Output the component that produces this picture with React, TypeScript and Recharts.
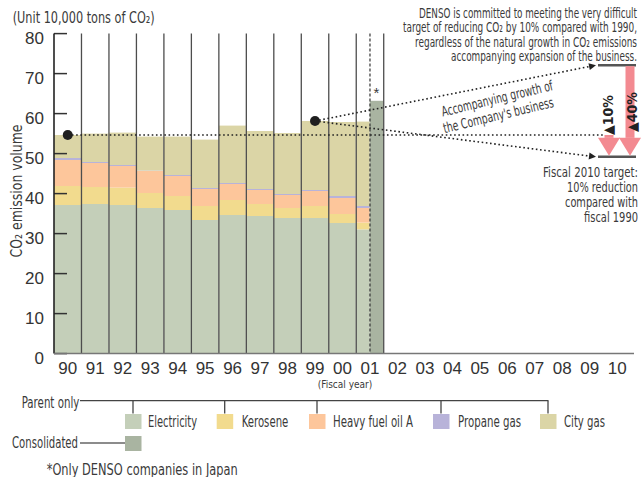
import React from "react";
import { BarChart, Bar, XAxis, YAxis, ReferenceDot } from "recharts";

const years = ["90", "91", "92", "93", "94", "95", "96", "97", "98", "99", "00", "01", "02", "03", "04", "05", "06", "07", "08", "09", "10"];
const electricity = [37.15, 37.4, 37.15, 36.4, 35.9, 33.4, 34.65, 34.4, 33.9, 33.9, 32.65, 31.05];
const kerosene = [4.75, 4.25, 4.35, 3.75, 3.5, 3.5, 3.75, 3.0, 2.5, 3.0, 2.25, 1.7];
const heavyFuelOilA = [6.5, 6.0, 5.4, 5.5, 5.0, 4.25, 4.0, 3.5, 3.25, 3.75, 4.0, 3.65];
const propaneGas = [0.5, 0.25, 0.25, 0.1, 0.25, 0.25, 0.25, 0.25, 0.25, 0.25, 0.5, 0.5];
const cityGas = [5.75, 7.1, 8.1, 8.5, 9.6, 12.1, 14.35, 14.5, 15.25, 17.25, 18.5, 21.1];
const consolidated = [null, null, null, null, null, null, null, null, null, null, null, 63.2];
const yTicks = [0, 10, 20, 30, 40, 50, 60, 70, 80];
const naturalGrowth = 72.1;

const series = [
  { key: "electricity", name: "Electricity", color: "#c4cfb9", values: electricity },
  { key: "kerosene", name: "Kerosene", color: "#f2db8e", values: kerosene },
  { key: "heavy", name: "Heavy fuel oil A", color: "#fdc69b", values: heavyFuelOilA },
  { key: "propane", name: "Propane gas", color: "#b8b3d9", values: propaneGas },
  { key: "city", name: "City gas", color: "#dbd5a6", values: cityGas },
];
const consColor = "#a9b4a1";

const data = years.map((year, i) => {
  const row: any = { year, consolidated: consolidated[i] ?? null };
  series.forEach((s) => (row[s.key] = s.values[i] ?? null));
  return row;
});
const totals = years.map((_, i) => series.reduce((a, s) => a + (s.values[i] ?? 0), 0));
const target = totals[0] * 0.9;

const W = 642;
const H = 477;
const LEFT = 54;
const RIGHT = 631;
const TOP = 33.6;
const BOTTOM = 353.6;
const BAND = (RIGHT - LEFT) / years.length;
const yPx = (v: number) => BOTTOM - ((BOTTOM - TOP) * v) / 80;
const xMid = (i: number) => LEFT + (i + 0.5) * BAND;

const NARROW = "'DejaVu Sans Condensed', 'Liberation Sans Narrow', 'Roboto Condensed', sans-serif";
const DIGITS = "'Liberation Sans', Arial, sans-serif";
const INK = "#3a3a3a";

const ParentShape = (p: any) => {
  if (!p.height || p.height <= 0) return null;
  const half = p.payload && p.payload.consolidated != null;
  return <rect x={p.x} y={p.y} width={half ? p.width / 2 : p.width} height={p.height} fill={p.fill} />;
};

const ConsShape = (p: any) => {
  if (!p.height || p.height <= 0) return null;
  return <rect x={p.x + p.width / 2} y={p.y} width={p.width / 2} height={p.height} fill={p.fill} />;
};

const StarLabel = (p: any) => {
  if (p.value == null) return null;
  return (
    <text x={p.x + p.width * 0.75} y={p.y - 3} textAnchor="middle" fontSize={15} fill={INK} fontFamily={DIGITS}>
      *
    </text>
  );
};

const XTick = (p: any) => (
  <text x={p.x} y={374} textAnchor="middle" fontSize={17} fill="#333" fontFamily={DIGITS}>
    {p.payload.value}
  </text>
);

// labels sit a little below their tick marks, as in the source
const YTick = (p: any) => (
  <g>
    <line x1={LEFT} x2={LEFT + 13} y1={p.y} y2={p.y} stroke="#333" strokeWidth={1.5} />
    <text x={44} y={p.y + 10.5} textAnchor="end" fontSize={17} fill="#333" fontFamily={DIGITS}>
      {p.payload.value}
    </text>
  </g>
);

const arrowHead = (x1: number, y1: number, x2: number, y2: number, len = 7, half = 3.5) => {
  const a = Math.atan2(y2 - y1, x2 - x1);
  const bx = x2 - len * Math.cos(a);
  const by = y2 - len * Math.sin(a);
  const px = -Math.sin(a) * half;
  const py = Math.cos(a) * half;
  return `${x2},${y2} ${bx + px},${by + py} ${bx - px},${by - py}`;
};

// right-aligned narrow text squeezed to the reference width
const RText = ({ x, y, w, children }: any) => (
  <text x={x} y={y} textAnchor="end" textLength={w} lengthAdjust="spacingAndGlyphs">
    {children}
  </text>
);

function Overlay() {
  const y90 = yPx(totals[0]);
  const y99 = yPx(totals[9]);
  const yN = yPx(naturalGrowth);
  const yT = yPx(target);
  const x99 = xMid(9);
  const tipX = 596;
  const head = 19;
  const legendX = [125, 216.7, 309, 433, 540];
  const legendText = [
    [148, 49],
    [241.7, 46.6],
    [333, 80],
    [458, 63],
    [564, 41],
  ];
  const dividers = Array.from({ length: 12 }, (_, i) => LEFT + (i + 1) * BAND);
  return (
    <svg width={W} height={H} style={{ position: "absolute", left: 0, top: 0, pointerEvents: "none" }}>
      {dividers.map((x, i) => (
        <line key={i} x1={x} x2={x} y1={TOP} y2={BOTTOM} stroke="#4d4d4d" strokeWidth={1.3} />
      ))}
      <line x1={xMid(11)} x2={xMid(11)} y1={TOP} y2={BOTTOM} stroke="#333" strokeWidth={1.2} strokeDasharray="3 2" />
      <line x1={LEFT} x2={LEFT} y1={TOP} y2={BOTTOM} stroke="#222" strokeWidth={1.6} />
      <line x1={LEFT} x2={634} y1={BOTTOM} y2={BOTTOM} stroke="#777" strokeWidth={1.5} />

      <line x1={xMid(0)} x2={603} y1={y90} y2={y90} stroke="#222" strokeWidth={1.6} strokeDasharray="1.6 2.6" />
      <line x1={x99} x2={tipX - 5} y1={y99} y2={yN + 1} stroke="#222" strokeWidth={1.6} strokeDasharray="1.6 2.6" />
      <polygon points={arrowHead(x99, y99, tipX, yN)} fill="#222" />
      <line x1={x99} x2={tipX - 5} y1={y99} y2={yT - 0.6} stroke="#222" strokeWidth={1.6} strokeDasharray="1.6 2.6" />
      <polygon points={arrowHead(x99, y99, tipX, yT)} fill="#222" />

      <line x1={598} x2={636} y1={yN} y2={yN} stroke="#555" strokeWidth={2.5} />
      <line x1={598} x2={636} y1={yT} y2={yT} stroke="#555" strokeWidth={2.5} />

      <rect x={625.5} y={yN + 1} width={9} height={yT - head - yN - 1} fill="#f38a91" />
      <polygon points={`${619},${yT - head} ${641},${yT - head} ${630},${yT - 1}`} fill="#f38a91" />
      <rect x={604.5} y={y90} width={9} height={yT - head - y90} fill="#f38a91" />
      <polygon points={`${598},${yT - head} ${620},${yT - head} ${609},${yT - 1}`} fill="#f38a91" />
      <text transform="translate(613,115) rotate(-90)" textAnchor="middle" fontSize={14} fontWeight="bold" fill="#222" fontFamily={NARROW}>
        ▲10%
      </text>
      <text transform="translate(637,112) rotate(-90)" textAnchor="middle" fontSize={14} fontWeight="bold" fill="#222" fontFamily={NARROW}>
        ▲40%
      </text>

      <g fontFamily={NARROW} fill={INK} fontSize={14}>
        <RText x={637} y={18} w={218}>DENSO is committed to meeting the very difficult</RText>
        <RText x={637} y={32} w={234}>target of reducing CO₂ by 10% compared with 1990,</RText>
        <RText x={637} y={47} w={222}>regardless of the natural growth in CO₂ emissions</RText>
        <RText x={637} y={61} w={186}>accompanying expansion of the business.</RText>
        <g transform="translate(441.7,111.7) rotate(-13.5)">
          <text x={0} y={5} textLength={114} lengthAdjust="spacingAndGlyphs">
            Accompanying growth of
          </text>
        </g>
        <g transform="translate(443.3,128.3) rotate(-13.5)">
          <text x={0} y={5} textLength={113} lengthAdjust="spacingAndGlyphs">
            the Company's business
          </text>
        </g>
        <RText x={638} y={177} w={95}>Fiscal 2010 target:</RText>
        <RText x={638} y={192} w={71}>10% reduction</RText>
        <RText x={638} y={207} w={73}>compared with</RText>
        <RText x={638} y={222} w={54}>fiscal 1990</RText>
      </g>

      <g fontFamily={NARROW} fill={INK} fontSize={15}>
        <text x={12.7} y={22.5} textLength={142} lengthAdjust="spacingAndGlyphs">
          (Unit 10,000 tons of CO₂)
        </text>
        <text transform="translate(22,191) rotate(-90)" textAnchor="middle" textLength={133} lengthAdjust="spacingAndGlyphs">
          CO₂ emission volume
        </text>
        <text x={345} y={388} textAnchor="middle" fontSize={10}>(Fiscal year)</text>

        <text x={21.7} y={408} textLength={57.6} lengthAdjust="spacingAndGlyphs">Parent only</text>
        <line x1={80} x2={548.5} y1={400.7} y2={400.7} stroke="#444" strokeWidth={1.3} />
        {series.map((s, i) => (
          <g key={s.key}>
            <line x1={legendX[i] + 8} x2={legendX[i] + 8} y1={400.7} y2={413.5} stroke="#444" strokeWidth={1.3} />
            <rect x={legendX[i]} y={414} width={16.5} height={15} fill={s.color} />
            <text x={legendText[i][0]} y={427} textLength={legendText[i][1]} lengthAdjust="spacingAndGlyphs">
              {s.name}
            </text>
          </g>
        ))}
        <text x={12} y={448} textLength={66} lengthAdjust="spacingAndGlyphs">Consolidated</text>
        <line x1={80} x2={125} y1={443} y2={443} stroke="#666" strokeWidth={1.5} />
        <rect x={125} y={436} width={16.5} height={15} fill={consColor} />
        <text x={46.7} y={475} textLength={191} lengthAdjust="spacingAndGlyphs">*Only DENSO companies in Japan</text>
      </g>
    </svg>
  );
}

export default function App() {
  return (
    <div style={{ position: "absolute", left: 0, top: 0, width: W, height: H, background: "#fff" }}>
      <BarChart
        width={W}
        height={H}
        data={data}
        margin={{ top: TOP, right: W - RIGHT, left: LEFT - 40, bottom: H - BOTTOM - 30 }}
        barCategoryGap={0}
        barGap={0}
        style={{ position: "absolute", left: 0, top: 0 }}
      >
        <XAxis dataKey="year" height={30} axisLine={false} tickLine={false} interval={0} tick={XTick} />
        <XAxis xAxisId="c" dataKey="year" hide />
        <YAxis width={40} domain={[0, 80]} ticks={yTicks} axisLine={false} tickLine={false} interval={0} tick={YTick} />
        {series.map((s) => (
          <Bar key={s.key} dataKey={s.key} name={s.name} stackId="parent" fill={s.color} shape={ParentShape} isAnimationActive={false} />
        ))}
        <Bar xAxisId="c" dataKey="consolidated" fill={consColor} shape={ConsShape} label={StarLabel} isAnimationActive={false} />
        <ReferenceDot x="90" y={totals[0]} r={5} fill="#1f1f1f" stroke="none" />
        <ReferenceDot x="99" y={totals[9]} r={5} fill="#1f1f1f" stroke="none" />
      </BarChart>
      <Overlay />
    </div>
  );
}
